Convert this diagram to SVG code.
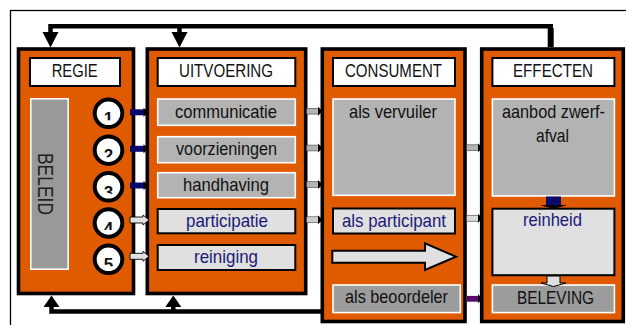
<svg xmlns="http://www.w3.org/2000/svg" width="626" height="325" viewBox="0 0 626 325">
<defs>
<style>
.frame{fill:none;stroke:#000;stroke-width:1.3}
.panel{fill:#e05a00;stroke:#000;stroke-width:3.6}
.hdr{fill:#fff;stroke:#000;stroke-width:2}
.g1{fill:#b3b3b3;stroke:#fff;stroke-width:1.6}
.g2{fill:#9c9c9c;stroke:#fff;stroke-width:1.6}
.lt{fill:#e0e0e0;stroke:#000;stroke-width:2}
text{font-family:"Liberation Sans",Arial,sans-serif;text-anchor:middle;fill:#111}
.h{font-size:19px}
.t{font-size:18.5px}
.n{fill:#1a1a78}
.conn{fill:none;stroke:#000;stroke-width:4.5}
.head{fill:#000}
.circ{fill:#fff;stroke:#000;stroke-width:4}
.dig{font-size:17px;font-weight:bold}
.navy{fill:#0a0a6e}
.gray{fill:#b3b3b3;stroke:#444;stroke-width:0.6}
.light{fill:#e0e0e0;stroke:#000;stroke-width:0.9}
.purple{fill:#5b0a6b}
</style>
<clipPath id="dc"><rect x="-10" y="-12" width="20" height="19"/></clipPath>
</defs>

<rect class="frame" x="10.5" y="10.5" width="700" height="400"/>

<g id="regie">
<rect class="panel" x="18.5" y="49" width="115" height="244.5"/>
<rect class="hdr" x="30" y="58" width="90" height="28"/>
<text class="h" x="74.7" y="77" textLength="46" lengthAdjust="spacingAndGlyphs">REGIE</text>
<rect x="30.8" y="98.8" width="37.4" height="170.4" fill="#999" stroke="#fff" stroke-width="1.6"/>
<text transform="translate(38,184) rotate(90)" x="0" y="0" style="font-size:22px;fill:#222" textLength="62" lengthAdjust="spacingAndGlyphs">BELEID</text>
<g transform="translate(108.5,113.3)"><circle class="circ" r="13.8"/><text class="dig" y="11" clip-path="url(#dc)">1</text></g>
<g transform="translate(108.5,150.2)"><circle class="circ" r="13.8"/><text class="dig" y="11" clip-path="url(#dc)">2</text></g>
<g transform="translate(108.5,186.8)"><circle class="circ" r="13.8"/><text class="dig" y="11" clip-path="url(#dc)">3</text></g>
<g transform="translate(108.5,223)"><circle class="circ" r="13.8"/><text class="dig" y="11" clip-path="url(#dc)">4</text></g>
<g transform="translate(108.5,259.3)"><circle class="circ" r="13.8"/><text class="dig" y="11" clip-path="url(#dc)">5</text></g>
</g>

<g id="uitvoering">
<rect class="panel" x="147.3" y="49" width="158.4" height="244.5"/>
<rect class="hdr" x="157.7" y="58" width="137.6" height="28"/>
<text class="h" x="226" y="77" textLength="94" lengthAdjust="spacingAndGlyphs">UITVOERING</text>
<rect class="g1" x="157.7" y="99" width="137.6" height="26.3"/>
<text class="t" x="226" y="118" textLength="102" lengthAdjust="spacingAndGlyphs">communicatie</text>
<rect class="g1" x="157.7" y="136.7" width="137.6" height="26"/>
<text class="t" x="226.5" y="155" textLength="101" lengthAdjust="spacingAndGlyphs">voorzieningen</text>
<rect class="g1" x="157.7" y="172.7" width="137.6" height="25"/>
<text class="t" x="226" y="190.5" textLength="86" lengthAdjust="spacingAndGlyphs">handhaving</text>
<rect class="lt" x="157.7" y="209" width="137.6" height="24.3"/>
<text class="t n" x="227" y="226.5" textLength="82" lengthAdjust="spacingAndGlyphs">participatie</text>
<rect class="lt" x="157.7" y="245" width="137.6" height="25"/>
<text class="t n" x="226" y="262.5" textLength="64" lengthAdjust="spacingAndGlyphs">reiniging</text>
</g>

<g id="consument">
<rect class="panel" x="322.3" y="49" width="142.7" height="272.5"/>
<rect class="hdr" x="333" y="58" width="122" height="28"/>
<text class="h" x="393.5" y="77" textLength="97" lengthAdjust="spacingAndGlyphs">CONSUMENT</text>
<rect class="g1" x="333" y="99" width="122" height="96.3"/>
<text class="t" x="393" y="118" textLength="88" lengthAdjust="spacingAndGlyphs">als vervuiler</text>
<rect class="lt" x="333" y="208.5" width="122" height="25"/>
<text class="t n" x="394" y="226.5" textLength="104" lengthAdjust="spacingAndGlyphs">als participant</text>
<rect class="g2" x="333" y="285" width="127.3" height="27.6"/>
<text class="t" x="396.5" y="303.3" textLength="103" lengthAdjust="spacingAndGlyphs">als beoordeler</text>
</g>

<g id="effecten">
<rect class="panel" x="481.7" y="49" width="141.6" height="272.5"/>
<rect class="hdr" x="492.4" y="58" width="122" height="28"/>
<text class="h" x="553" y="77" textLength="80" lengthAdjust="spacingAndGlyphs">EFFECTEN</text>
<rect class="g1" x="492.4" y="99" width="122" height="97"/>
<text class="t" x="553.5" y="118" textLength="103" lengthAdjust="spacingAndGlyphs">aanbod zwerf-</text>
<text class="t" x="552.5" y="141.5" textLength="33" lengthAdjust="spacingAndGlyphs">afval</text>
<rect class="lt" x="492.4" y="208.7" width="122" height="66.5"/>
<text class="t n" x="552.5" y="226" textLength="59" lengthAdjust="spacingAndGlyphs">reinheid</text>
<rect class="g2" x="492.4" y="285" width="122" height="27.6"/>
<text class="h" x="555.5" y="304" textLength="77" lengthAdjust="spacingAndGlyphs">BELEVING</text>
</g>

<g id="connectors">
<path class="conn" d="M550.7,47 V26.3 H50.5 V33"/>
<path d="M550.7,47 V28" fill="none" stroke="#000" stroke-width="6"/>
<path class="conn" d="M179.5,26.3 V33"/>
<polygon class="head" points="42.5,32 58.5,32 50.5,47.5"/>
<polygon class="head" points="171.5,32 187.5,32 179.5,47.5"/>
<path class="conn" d="M321,311.5 H51.5 V306"/>
<path class="conn" d="M173.3,311.5 V306"/>
<polygon class="head" points="43.5,307 59.5,307 51.5,295.5"/>
<polygon class="head" points="165.3,307 181.3,307 173.3,295.5"/>

<rect class="navy" x="130" y="109.3" width="14" height="6"/><polygon class="head" points="143.5,107.8 143.5,116.8 149,112.3"/>
<rect class="navy" x="130" y="145.8" width="14" height="6"/><polygon class="head" points="143.5,144.3 143.5,153.3 149,148.8"/>
<rect class="navy" x="130" y="182.5" width="14" height="6"/><polygon class="head" points="143.5,181 143.5,190 149,185.5"/>
<path class="light" d="M130,217 H143 V215 L149,220 L143,225 V223 H130 Z"/>
<path class="light" d="M130,253.3 H143 V251.3 L149,256.3 L143,261.3 V259.3 H130 Z"/>

<rect class="gray" x="306.7" y="108.3" width="12" height="5.8"/><polygon class="head" points="318,106.7 318,115.7 322.5,111.2"/>
<rect class="gray" x="306.7" y="145.1" width="12" height="5.8"/><polygon class="head" points="318,143.5 318,152.5 322.5,148"/>
<rect class="gray" x="306.7" y="181.6" width="12" height="5.8"/><polygon class="head" points="318,180 318,189 322.5,184.5"/>
<rect class="gray" x="306.7" y="216.8" width="12" height="5.8" style="fill:#cfcfcf"/><polygon class="head" points="318,215.2 318,224.2 322.5,219.7"/>

<rect class="gray" x="466.7" y="144.8" width="12" height="5.8"/><polygon class="head" points="478,143.2 478,152.2 482.5,147.7"/>
<rect class="gray" x="466.7" y="215.4" width="12" height="5.8" style="fill:#dcdcdc"/><polygon class="head" points="478,213.8 478,222.8 482.5,218.3"/>
<rect class="purple" x="466.7" y="295.9" width="12" height="5.8"/><polygon class="head" points="478,294.3 478,303.3 482.5,298.8"/>

<rect class="navy" x="546" y="196.5" width="15" height="9"/>
<polygon class="head" points="540,205 567,205 553.5,209"/>
<path d="M547,276 V283 H541 L553.5,286.5 L566,283 H560 V276 Z" fill="#e0e0e0" stroke="#000" stroke-width="1"/>

<polygon points="332.3,250.7 425,250.7 425,243.3 456,256.7 425,270 425,262.7 332.3,262.7" fill="#e0e0e0" stroke="#000" stroke-width="2"/>
</g>
</svg>
